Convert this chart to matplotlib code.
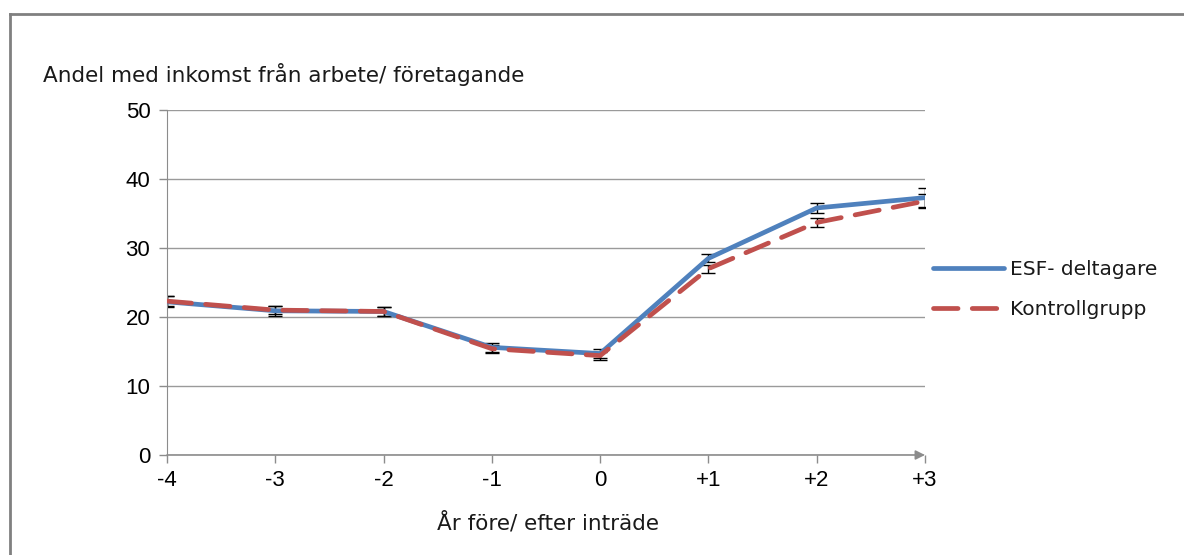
"""
Andel med inkomst från arbete/företagande, ESF-deltagare vs kontrollgrupp
"""

import matplotlib.pyplot as plt
from matplotlib.lines import Line2D

# Data
ar_labels = ["-4", "-3", "-2", "-1", "0", "+1", "+2", "+3"]
ar = [-4, -3, -2, -1, 0, 1, 2, 3]
esf = [22.2, 20.9, 20.8, 15.6, 14.7, 28.5, 35.8, 37.3]
esf_err = [0.8, 0.7, 0.7, 0.6, 0.6, 0.6, 0.7, 1.4]
kontroll = [22.3, 21.0, 20.8, 15.4, 14.4, 27.0, 33.7, 36.8]
kontroll_err = [0.7, 0.6, 0.6, 0.6, 0.6, 0.6, 0.7, 1.0]

BLUE = "#4F81BD"
RED = "#C0504D"
GRAY = "#8C8C8C"
TEXT_SIZE = 15.5

fig = plt.figure(figsize=(11.84, 5.55), dpi=100)
ax = fig.add_axes([167 / 1184, 1 - 455 / 555, 758 / 1184, 345 / 555])

# Error bars (black, thin, with caps)
ax.errorbar(ar, esf, yerr=esf_err, fmt="none", ecolor="black",
            elinewidth=1, capsize=5, capthick=1, zorder=2)
ax.errorbar(ar, kontroll, yerr=kontroll_err, fmt="none", ecolor="black",
            elinewidth=1, capsize=5, capthick=1, zorder=2)

ax.plot(ar, esf, color=BLUE, linewidth=3.4, solid_capstyle="round",
        label="ESF- deltagare", zorder=3)
ax.plot(ar, kontroll, color=RED, linewidth=3.4, dashes=(5.2, 3.0),
        dash_capstyle="round", label="Kontrollgrupp", zorder=4)

# Axes
ax.set_xlim(-4, 3)
ax.set_ylim(0, 50)
ax.set_yticks(range(0, 51, 10))
ax.set_xticks(ar)
ax.set_xticklabels(ar_labels)
ax.grid(axis="y", color="#9A9A9A", linewidth=1)
ax.set_axisbelow(True)
for side in ["top", "right", "bottom"]:
    ax.spines[side].set_visible(False)
ax.spines["left"].set_color(GRAY)
ax.tick_params(axis="both", colors=GRAY, length=6, width=1,
               labelcolor="black", labelsize=16)
ax.tick_params(axis="y", pad=6)
ax.tick_params(axis="x", pad=5)
for lbl in ax.get_xticklabels() + ax.get_yticklabels():
    lbl.set_family("Liberation Sans")

# x-axis with arrow
ax.annotate("", xy=(1.0, 0), xytext=(0, 0), xycoords="axes fraction",
            textcoords="axes fraction",
            arrowprops=dict(arrowstyle="-|>", color=GRAY, lw=1.2,
                            mutation_scale=14, shrinkA=0, shrinkB=0),
            annotation_clip=False)

# Titles
fig.text(43 / 1184, 1 - 75 / 555, "Andel med inkomst från arbete/ företagande",
         fontsize=TEXT_SIZE, family="DejaVu Sans", va="center", ha="left",
         color="#1A1A1A")
fig.text(548 / 1184, 1 - 523 / 555, "År före/ efter inträde",
         fontsize=TEXT_SIZE, family="DejaVu Sans", va="center", ha="center",
         color="#1A1A1A")

# Legend
leg = ax.legend(loc="center left", bbox_to_anchor=(1.0, 0.48), frameon=False,
                fontsize=14.5, handlelength=3.5, handletextpad=0.3,
                labelspacing=1.05, borderaxespad=0.1, borderpad=0.3)
for t in leg.get_texts():
    t.set_family("DejaVu Sans")
    t.set_color("#1A1A1A")

# Outer frame (left and top edge of the chart border)
fig.add_artist(Line2D([10 / 1184, 10 / 1184], [0, 1 - 14 / 555],
                      color="#808080", linewidth=2, transform=fig.transFigure))
fig.add_artist(Line2D([10 / 1184, 1], [1 - 14 / 555, 1 - 14 / 555],
                      color="#808080", linewidth=2, transform=fig.transFigure))

fig.savefig("out.png", dpi=100)
plt.close(fig)
